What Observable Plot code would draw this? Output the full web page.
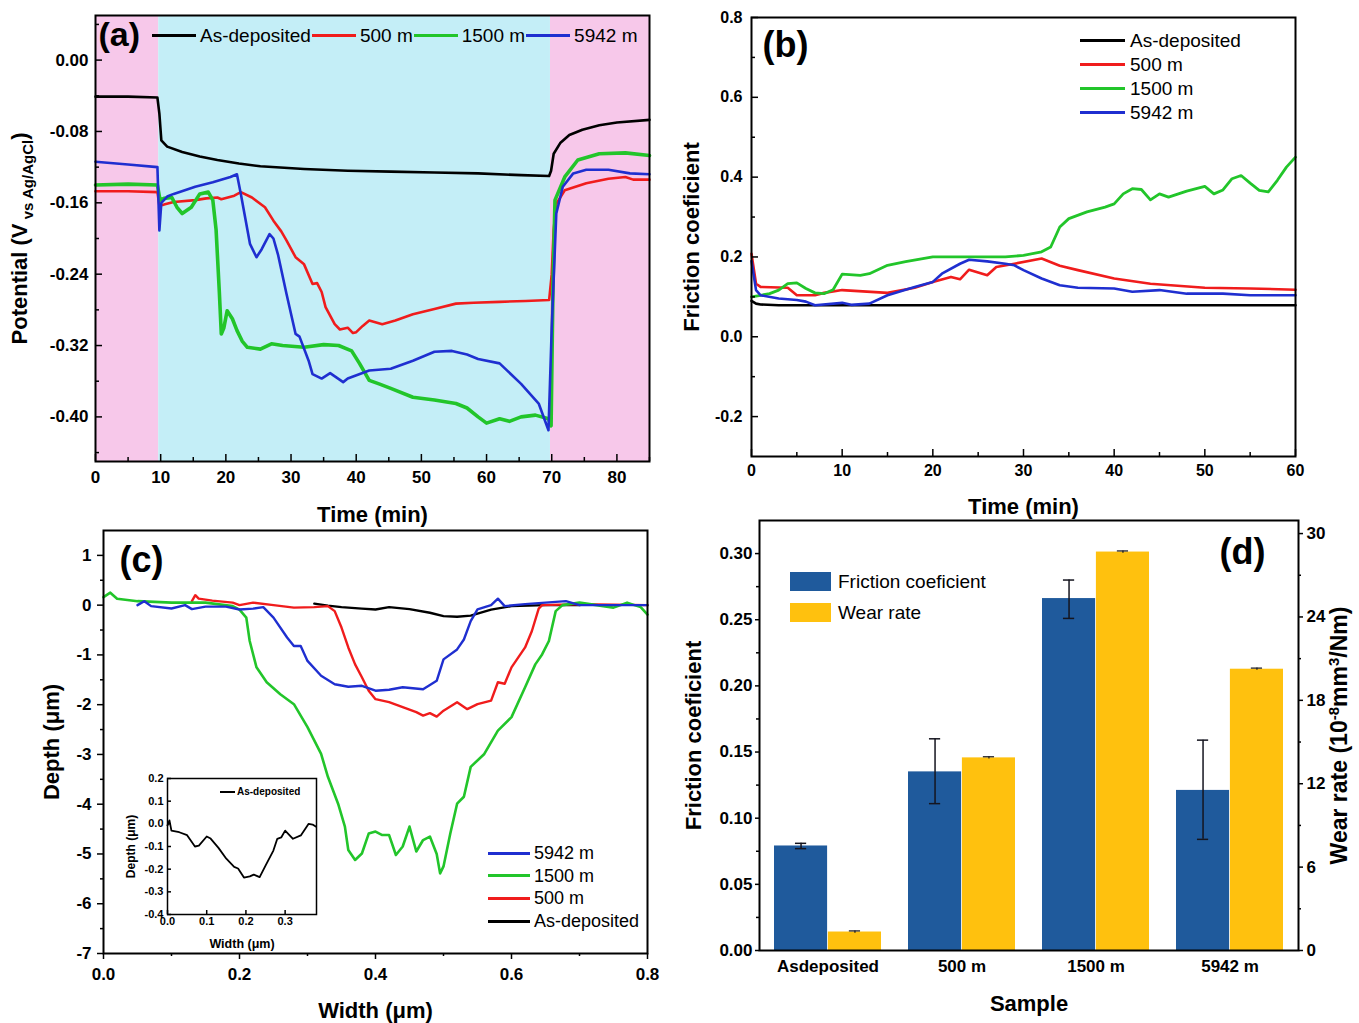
<!DOCTYPE html>
<html><head><meta charset="utf-8">
<script src="https://cdn.jsdelivr.net/npm/d3@7"></script>
<script src="https://cdn.jsdelivr.net/npm/@observablehq/plot@0.6"></script>
<style>
html,body{margin:0;padding:0;background:#fff;}
#root{position:relative;width:1359px;height:1023px;overflow:hidden;background:#fff;}
.panel{position:absolute;}
.panel svg{max-width:none !important;display:block;}
.legend{position:absolute;font-family:"Liberation Sans",Arial,Helvetica,sans-serif;color:#000;line-height:1;}
.row{display:flex;align-items:center;white-space:nowrap;}
.sw{display:inline-block;flex:none;}
</style></head><body><div id="root"></div>
<script>
// ---------------- DATA ----------------
const seriesLabels = ["As-deposited", "500 m", "1500 m", "5942 m"];
// (a) open-circuit potential vs time  [time (min), potential (V)]
const phaseStart = [0, 9.7, 69.8];
const phaseEnd   = [9.7, 69.8, 85];
const potAsDep = [[0,-0.041],[5,-0.041],[9.5,-0.042],[9.8,-0.060],[10.1,-0.090],[11,-0.097],[13.3,-0.103],[16,-0.108],[18.7,-0.112],[22,-0.116],[25.3,-0.119],[32,-0.122],[38.7,-0.124],[45.3,-0.125],[52,-0.126],[58.7,-0.127],[65.3,-0.129],[69.6,-0.130],[69.9,-0.124],[70.3,-0.105],[71.3,-0.093],[72.7,-0.084],[74.7,-0.078],[77.3,-0.073],[80,-0.070],[85,-0.067]];
const pot500 = [[0,-0.147],[5,-0.147],[9.5,-0.148],[9.8,-0.163],[10.5,-0.162],[12,-0.159],[15.3,-0.157],[17,-0.155],[18.7,-0.154],[19.3,-0.156],[21.3,-0.152],[22.3,-0.148],[24,-0.154],[26,-0.165],[27.3,-0.180],[28.5,-0.192],[29.3,-0.202],[30.7,-0.221],[32,-0.229],[33.3,-0.251],[34,-0.250],[34.7,-0.260],[35.3,-0.277],[36.7,-0.296],[37.5,-0.302],[38.7,-0.300],[39.5,-0.306],[40,-0.305],[41,-0.298],[42,-0.292],[44,-0.296],[46,-0.292],[48.7,-0.285],[52,-0.279],[55.3,-0.273],[58,-0.272],[62,-0.271],[66,-0.270],[69.6,-0.269],[70.0,-0.240],[70.3,-0.190],[70.7,-0.161],[72,-0.146],[75.3,-0.138],[78.7,-0.133],[81.3,-0.131],[82.5,-0.134],[85,-0.134]];
const pot1500 = [[0,-0.140],[5,-0.139],[9.5,-0.140],[9.9,-0.157],[10.5,-0.155],[11.7,-0.154],[12.5,-0.165],[13.3,-0.172],[14.7,-0.165],[16,-0.150],[17.3,-0.148],[18,-0.157],[18.5,-0.190],[19,-0.260],[19.3,-0.307],[19.7,-0.300],[20.2,-0.281],[21,-0.290],[21.7,-0.303],[22.5,-0.315],[23.3,-0.322],[25.3,-0.324],[27,-0.318],[28.7,-0.320],[32,-0.322],[35,-0.319],[37.3,-0.320],[39.3,-0.326],[40.5,-0.340],[42,-0.359],[43.5,-0.363],[45.3,-0.368],[48.7,-0.378],[52,-0.381],[55.3,-0.385],[57,-0.390],[58.7,-0.400],[60,-0.407],[62,-0.402],[63.5,-0.405],[65.3,-0.400],[67.5,-0.398],[69.5,-0.402],[69.9,-0.410],[70.2,-0.250],[70.5,-0.157],[72,-0.131],[74,-0.112],[77.3,-0.105],[81.3,-0.104],[85,-0.107]];
const pot5942 = [[0,-0.114],[5,-0.117],[9.5,-0.120],[9.8,-0.191],[10.1,-0.160],[11,-0.153],[12,-0.150],[15.3,-0.142],[18,-0.137],[20.7,-0.131],[21.7,-0.128],[22.3,-0.150],[23.7,-0.206],[24.7,-0.221],[25.5,-0.212],[26.7,-0.195],[27.3,-0.200],[28,-0.218],[29.3,-0.262],[30.7,-0.307],[31.3,-0.310],[32.7,-0.337],[33.3,-0.352],[34.7,-0.357],[36,-0.351],[37,-0.356],[38,-0.361],[38.7,-0.357],[42,-0.348],[45.3,-0.346],[48.7,-0.337],[52,-0.327],[54.7,-0.326],[57,-0.330],[58.7,-0.335],[62,-0.340],[65.3,-0.363],[68,-0.385],[69.5,-0.415],[70.0,-0.300],[70.7,-0.172],[71.7,-0.142],[73.3,-0.127],[75.3,-0.123],[78.7,-0.123],[82,-0.127],[85,-0.128]];
const aXTicks = [0,10,20,30,40,50,60,70,80];
const aYTicks = [0,-0.08,-0.16,-0.24,-0.32,-0.40];

// (b) friction coefficient vs time  [time (min), COF]
const cofAsDep = [[0,0.090],[0.5,0.083],[1,0.081],[3,0.079],[10,0.079],[20,0.079],[30,0.079],[40,0.079],[50,0.079],[60,0.079]];
const cof500 = [[0,0.208],[0.5,0.133],[1,0.125],[4,0.123],[5,0.104],[7,0.104],[8,0.110],[10,0.117],[15,0.110],[18,0.123],[20,0.1375],[22,0.150],[23,0.144],[24,0.168],[26,0.154],[27,0.175],[29,0.183],[32,0.196],[34,0.178],[36,0.167],[40,0.146],[44,0.133],[50,0.123],[55,0.121],[60,0.118]];
const cof1500 = [[0,0.100],[1,0.104],[2,0.108],[3,0.117],[4,0.133],[5,0.135],[6,0.121],[7,0.110],[8,0.108],[9,0.118],[10,0.157],[12,0.154],[13,0.158],[15,0.179],[17,0.188],[20,0.200],[25,0.200],[28,0.200],[30,0.204],[32,0.213],[33,0.225],[34,0.275],[35,0.296],[37,0.313],[39,0.325],[40,0.333],[41,0.358],[42,0.371],[43,0.369],[44,0.343],[45,0.358],[46,0.350],[48,0.365],[50,0.377],[51,0.358],[52,0.368],[53,0.396],[54,0.404],[55,0.385],[56,0.367],[57,0.363],[58,0.392],[59,0.425],[60,0.450]];
const cof5942 = [[0,0.190],[0.5,0.117],[1,0.104],[3,0.096],[5,0.092],[6,0.088],[7,0.079],[10,0.085],[11,0.080],[13,0.083],[15,0.104],[18,0.125],[20,0.1375],[21,0.158],[23,0.183],[24,0.193],[26,0.189],[28,0.183],[29,0.179],[30,0.167],[32,0.146],[34,0.129],[36,0.123],[40,0.121],[42,0.113],[45,0.117],[48,0.108],[52,0.108],[55,0.104],[60,0.104]];
const bXTicks = [0,10,20,30,40,50,60];
const bYTicks = [-0.2,0,0.2,0.4,0.6,0.8];

// (c) wear track profiles  [width (um), depth (um)]
const depthAsDep = [[0.31,0.03],[0.33,-0.01],[0.35,-0.04],[0.38,-0.07],[0.40,-0.087],[0.42,-0.04],[0.45,-0.08],[0.48,-0.153],[0.50,-0.22],[0.52,-0.233],[0.54,-0.21],[0.57,-0.09],[0.60,-0.02],[0.65,0],[0.70,0]];
const depth5942 = [[0.05,0],[0.06,0.08],[0.07,-0.02],[0.10,-0.067],[0.12,0],[0.13,-0.08],[0.15,-0.03],[0.18,-0.03],[0.20,-0.087],[0.22,-0.07],[0.235,-0.04],[0.25,-0.25],[0.27,-0.65],[0.28,-0.82],[0.29,-0.82],[0.30,-1.12],[0.32,-1.42],[0.34,-1.59],[0.36,-1.64],[0.38,-1.62],[0.40,-1.72],[0.42,-1.70],[0.44,-1.65],[0.47,-1.69],[0.49,-1.52],[0.50,-1.09],[0.52,-0.89],[0.53,-0.69],[0.54,-0.32],[0.55,-0.087],[0.57,0],[0.58,0.13],[0.59,-0.02],[0.62,0.02],[0.68,0.08],[0.70,0],[0.80,0]];
const depth1500 = [[0,0.16],[0.01,0.25],[0.02,0.13],[0.05,0.08],[0.10,0.05],[0.15,0.05],[0.19,-0.02],[0.20,-0.09],[0.21,-0.25],[0.215,-0.72],[0.225,-1.25],[0.24,-1.55],[0.26,-1.79],[0.28,-1.99],[0.30,-2.45],[0.32,-2.99],[0.33,-3.45],[0.345,-3.99],[0.355,-4.45],[0.36,-4.92],[0.37,-5.12],[0.38,-4.99],[0.39,-4.59],[0.40,-4.55],[0.41,-4.62],[0.42,-4.62],[0.43,-5.02],[0.44,-4.85],[0.45,-4.45],[0.46,-4.95],[0.47,-4.72],[0.48,-4.65],[0.49,-5.00],[0.495,-5.39],[0.50,-5.25],[0.51,-4.59],[0.52,-3.99],[0.53,-3.85],[0.54,-3.25],[0.56,-2.99],[0.58,-2.52],[0.60,-2.25],[0.62,-1.65],[0.635,-1.19],[0.645,-0.99],[0.655,-0.72],[0.665,-0.12],[0.675,0],[0.70,0.05],[0.75,-0.05],[0.77,0.05],[0.79,-0.04],[0.80,-0.19]];
const depth500 = [[0.13,0.08],[0.135,0.20],[0.14,0.13],[0.16,0.09],[0.19,0.05],[0.20,0],[0.22,0.05],[0.25,0],[0.28,-0.05],[0.31,-0.04],[0.33,-0.02],[0.34,-0.12],[0.35,-0.45],[0.36,-0.85],[0.37,-1.19],[0.38,-1.45],[0.39,-1.72],[0.40,-1.89],[0.42,-1.95],[0.44,-2.05],[0.46,-2.15],[0.47,-2.22],[0.48,-2.17],[0.49,-2.24],[0.50,-2.12],[0.52,-1.95],[0.535,-2.09],[0.55,-1.99],[0.57,-1.92],[0.58,-1.55],[0.59,-1.58],[0.60,-1.25],[0.62,-0.85],[0.63,-0.52],[0.64,-0.07],[0.645,0],[0.70,0.02],[0.80,0]];
const cXTicks = [0,0.2,0.4,0.6,0.8];
const cYTicks = [1,0,-1,-2,-3,-4,-5,-6,-7];
const insetAsDep = [[0,-0.007],[0.005,0.015],[0.01,-0.03],[0.03,-0.037],[0.05,-0.05],[0.07,-0.10],[0.08,-0.096],[0.10,-0.056],[0.11,-0.065],[0.13,-0.106],[0.15,-0.154],[0.17,-0.19],[0.18,-0.197],[0.195,-0.237],[0.21,-0.232],[0.22,-0.224],[0.235,-0.235],[0.25,-0.184],[0.27,-0.118],[0.28,-0.066],[0.29,-0.06],[0.30,-0.03],[0.32,-0.066],[0.34,-0.051],[0.36,0],[0.37,-0.003],[0.378,-0.012]];
const insetXTicks = [0,0.1,0.2,0.3];
const insetYTicks = [0.2,0.1,0,-0.1,-0.2,-0.3,-0.4];

// (d) friction coefficient and wear rate per sample
const samples = ["Asdeposited", "500 m", "1500 m", "5942 m"];
const friction = [0.079, 0.135, 0.266, 0.121];
const frictionLo = [0.077, 0.111, 0.251, 0.084];
const frictionHi = [0.081, 0.160, 0.280, 0.159];
const wearRate = [1.33, 13.86, 28.67, 20.24];
const wearErr = [0.08, 0.08, 0.08, 0.08];
const dLeftTicks = [0,0.05,0.10,0.15,0.20,0.25,0.30];
const dRightTicks = [0,6,12,18,24,30];

// ---------------- STYLE ----------------
const FONT = '"Liberation Sans", Arial, Helvetica, sans-serif';
const C_BLACK = "#000000", C_RED = "#f01c1c", C_GREEN = "#22c52a", C_BLUE = "#1f2fd0";
const seriesColors = [C_BLACK, C_RED, C_GREEN, C_BLUE];
const C_PINK = "#f7c8ea", C_CYAN = "#c4eef7";
const C_BAR1 = "#1f5a9c", C_BAR2 = "#ffc10e";
const root = document.getElementById("root");

function baseStyle(fs) {
  return {fontFamily: FONT, fontSize: fs + "px", fontWeight: "bold", background: "transparent", overflow: "visible", color: "#000"};
}
function place(svg, left, top) {
  const div = document.createElement("div");
  div.className = "panel"; div.style.left = left + "px"; div.style.top = top + "px";
  div.appendChild(svg); root.appendChild(div); return svg;
}
function mid(arr) { const o = []; for (let i = 0; i + 1 < arr.length; i++) o.push((arr[i] + arr[i+1]) / 2); return o; }
function ticksBottom(vals, len, fh, out) {
  return Plot.ruleX(vals, out ? {x: d => d, insetTop: fh, insetBottom: -len, stroke: "#000", strokeWidth: 1.5}
                              : {x: d => d, insetTop: fh - len, stroke: "#000", strokeWidth: 1.5});
}
function ticksLeft(vals, len, fw, out) {
  return Plot.ruleY(vals, out ? {y: d => d, insetLeft: -len, insetRight: fw, stroke: "#000", strokeWidth: 1.5}
                              : {y: d => d, insetRight: fw - len, stroke: "#000", strokeWidth: 1.5});
}
function ticksRight(vals, len, fw, out) {
  return Plot.ruleY(vals, out ? {y: d => d, insetLeft: fw, insetRight: -len, stroke: "#000", strokeWidth: 1.5}
                              : {y: d => d, insetLeft: fw - len, stroke: "#000", strokeWidth: 1.5});
}
function richText(svg, match, parts) {
  d3.select(svg).selectAll("text").filter(function () { return this.textContent === match; }).each(function () {
    const t = d3.select(this); t.text("");
    parts.forEach(p => { const ts = t.append("tspan").text(p.t); if (p.fs) ts.attr("font-size", p.fs); if (p.dy) ts.attr("dy", p.dy); });
  });
}
function legend(o) {
  const div = document.createElement("div"); div.className = "legend";
  div.style.left = o.left + "px"; div.style.top = o.top + "px";
  div.style.fontSize = o.fontSize + "px"; div.style.fontWeight = o.fontWeight || "normal";
  div.style.display = "flex"; div.style.flexDirection = o.dir || "column";
  if (o.itemGap) div.style.gap = o.itemGap + "px";
  o.items.forEach(it => {
    const r = document.createElement("div"); r.className = "row"; r.style.height = o.rowH + "px";
    const sw = document.createElement("span"); sw.className = "sw";
    sw.style.width = o.lineW + "px"; sw.style.height = o.lineH + "px"; sw.style.background = it.color; sw.style.marginRight = o.gap + "px";
    const tx = document.createElement("span"); tx.textContent = it.label;
    r.append(sw, tx); div.appendChild(r);
  });
  root.appendChild(div);
}
const lx = d => d[0], ly = d => d[1];
function xTitle(t, dy, fs) { return Plot.text([t], {frameAnchor: "bottom", dy, lineAnchor: "middle", textAnchor: "middle", fontSize: fs, fontWeight: "bold"}); }
function yTitle(t, dx, fs, side) { return Plot.text([t], {frameAnchor: side || "left", dx, rotate: -90, lineAnchor: "middle", textAnchor: "middle", fontSize: fs, fontWeight: "bold"}); }
function panelLabel(t, anchor, dx, dy, fs) { return Plot.text([t], {frameAnchor: anchor, dx, dy, lineAnchor: "middle", textAnchor: /right$/.test(anchor) ? "end" : "start", fontSize: fs, fontWeight: "bold"}); }

// ---------------- PANEL (a) ----------------
{
  const W = 680, H = 530, ml = 95, mr = 31, mt = 15, mb = 69, fw = W - ml - mr, fh = H - mt - mb;
  const phases = phaseStart.map((s, i) => ({s, e: phaseEnd[i], i}));
  const svg = Plot.plot({
    width: W, height: H, marginLeft: ml, marginRight: mr, marginTop: mt, marginBottom: mb,
    x: {domain: [0, 85]}, y: {domain: [-0.45, 0.05]}, style: baseStyle(17),
    marks: [
      Plot.rect(phases.filter(p => p.i !== 1), {x1: "s", x2: "e", fill: C_PINK}),
      Plot.rect(phases.filter(p => p.i === 1), {x1: "s", x2: "e", fill: C_CYAN}),
      Plot.line(potAsDep, {x: lx, y: ly, stroke: C_BLACK, strokeWidth: 2.6}),
      Plot.line(pot500, {x: lx, y: ly, stroke: C_RED, strokeWidth: 2.6}),
      Plot.line(pot1500, {x: lx, y: ly, stroke: C_GREEN, strokeWidth: 3.6}),
      Plot.line(pot5942, {x: lx, y: ly, stroke: C_BLUE, strokeWidth: 2.6}),
      Plot.frame({stroke: "#000", strokeWidth: 2}),
      ticksBottom(aXTicks, 7, fh), ticksBottom(mid([...aXTicks, 90]), 4, fh),
      ticksLeft(aYTicks, 7, fw), ticksLeft([0.04, ...mid(aYTicks), -0.44], 4, fw),
      Plot.axisX(aXTicks, {tickSize: 0, tickPadding: 9, tickFormat: d => String(d), label: null}),
      Plot.axisY(aYTicks, {tickSize: 0, tickPadding: 7, tickFormat: d => d.toFixed(2), label: null}),
      xTitle("Time (min)", 53, 22),
      yTitle("Potential (V vs Ag/AgCl)", -76, 22),
      panelLabel("(a)", "top-left", 3, 20, 34)
    ]
  });
  richText(svg, "Potential (V vs Ag/AgCl)", [{t: "Potential (V"}, {t: " vs Ag/AgCl", fs: 15, dy: 6}, {t: ")", fs: 22, dy: -6}]);
  place(svg, 0, 0);
  legend({left: 152, top: 24, dir: "row", rowH: 22, lineW: 44, lineH: 3, gap: 4, itemGap: 1, fontSize: 19,
          items: seriesLabels.map((l, i) => ({label: l, color: seriesColors[i]}))});
}

// ---------------- PANEL (b) ----------------
{
  const W = 679, H = 530, ml = 71, mr = 64, mt = 17, mb = 74, fw = W - ml - mr, fh = H - mt - mb;
  const svg = Plot.plot({
    width: W, height: H, marginLeft: ml, marginRight: mr, marginTop: mt, marginBottom: mb,
    x: {domain: [0, 60]}, y: {domain: [-0.3, 0.8]}, style: baseStyle(16),
    marks: [
      Plot.line(cofAsDep, {x: lx, y: ly, stroke: C_BLACK, strokeWidth: 2.6}),
      Plot.line(cof500, {x: lx, y: ly, stroke: C_RED, strokeWidth: 2.6}),
      Plot.line(cof1500, {x: lx, y: ly, stroke: C_GREEN, strokeWidth: 2.8}),
      Plot.line(cof5942, {x: lx, y: ly, stroke: C_BLUE, strokeWidth: 2.6}),
      Plot.frame({stroke: "#000", strokeWidth: 2}),
      ticksBottom(bXTicks, 7, fh), ticksBottom(mid(bXTicks), 4, fh),
      ticksLeft(bYTicks, 7, fw), ticksLeft(mid(bYTicks), 4, fw),
      Plot.axisX(bXTicks, {tickSize: 0, tickPadding: 8, tickFormat: d => String(d), label: null}),
      Plot.axisY(bYTicks, {tickSize: 0, tickPadding: 9, tickFormat: d => d.toFixed(1), label: null}),
      xTitle("Time (min)", 50, 22),
      yTitle("Friction coeficient", -60, 22),
      panelLabel("(b)", "top-left", 11, 28, 36)
    ]
  });
  place(svg, 680, 0);
  legend({left: 1080, top: 28, rowH: 24, lineW: 45, lineH: 3, gap: 5, fontSize: 19,
          items: seriesLabels.map((l, i) => ({label: l, color: seriesColors[i]}))});
}

// ---------------- PANEL (c) ----------------
{
  const W = 680, H = 503, ml = 103, mr = 33, mt = 10, mb = 70, fw = W - ml - mr, fh = H - mt - mb;
  const svg = Plot.plot({
    width: W, height: H, marginLeft: ml, marginRight: mr, marginTop: mt, marginBottom: mb,
    x: {domain: [0, 0.8]}, y: {domain: [-7, 1.5]}, style: baseStyle(17),
    marks: [
      Plot.line(depthAsDep, {x: lx, y: ly, stroke: C_BLACK, strokeWidth: 2.4}),
      Plot.line(depth500, {x: lx, y: ly, stroke: C_RED, strokeWidth: 2.4}),
      Plot.line(depth1500, {x: lx, y: ly, stroke: C_GREEN, strokeWidth: 2.6}),
      Plot.line(depth5942, {x: lx, y: ly, stroke: C_BLUE, strokeWidth: 2.4}),
      Plot.frame({stroke: "#000", strokeWidth: 2}),
      ticksBottom(mid(cXTicks), 3, fh, true),
      ticksLeft(mid(cYTicks), 3, fw, true),
      Plot.axisX(cXTicks, {tickSize: 6, strokeWidth: 1.5, tickPadding: 8, tickFormat: d => d.toFixed(1), label: null}),
      Plot.axisY(cYTicks, {tickSize: 6, strokeWidth: 1.5, tickPadding: 6, tickFormat: d => String(d), label: null}),
      xTitle("Width (μm)", 57, 22),
      yTitle("Depth (μm)", -52, 22),
      panelLabel("(c)", "top-left", 16, 30, 36)
    ]
  });
  place(svg, 0, 520);
  legend({left: 488, top: 842, rowH: 22.6, lineW: 42, lineH: 3, gap: 4, fontSize: 18,
          items: [3, 2, 1, 0].map(i => ({label: seriesLabels[i], color: seriesColors[i]}))});
}

// ---------------- INSET (c) ----------------
{
  const W = 220, H = 190, ml = 57, mr = 14, mt = 8, mb = 46, fw = W - ml - mr, fh = H - mt - mb;
  const svg = Plot.plot({
    width: W, height: H, marginLeft: ml, marginRight: mr, marginTop: mt, marginBottom: mb,
    x: {domain: [0, 0.38]}, y: {domain: [-0.4, 0.2]}, style: baseStyle(11),
    marks: [
      Plot.line(insetAsDep, {x: lx, y: ly, stroke: C_BLACK, strokeWidth: 1.8}),
      Plot.frame({stroke: "#000", strokeWidth: 1.5}),
      ticksBottom(insetXTicks, 4, fh), ticksLeft(insetYTicks, 4, fw),
      Plot.axisX(insetXTicks, {tickSize: 0, tickPadding: 3, tickFormat: d => d.toFixed(1), label: null}),
      Plot.axisY(insetYTicks, {tickSize: 0, tickPadding: 4, tickFormat: d => d.toFixed(1), label: null}),
      xTitle("Width (μm)", 29, 12.5),
      yTitle("Depth (μm)", -36, 12)
    ]
  });
  place(svg, 110, 770);
  legend({left: 220, top: 785, rowH: 14, lineW: 15, lineH: 2, gap: 2, fontSize: 10, fontWeight: "bold",
          items: [{label: seriesLabels[0], color: C_BLACK}]});
}

// ---------------- PANEL (d) ----------------
{
  const W = 679, H = 513, ml = 79, mr = 61, mt = 10, mb = 73, fw = W - ml - mr, fh = H - mt - mb;
  const yTop = 0.325, wTop = 30.94, k = yTop / wTop;
  const pIn = 0.2, pOut = 0.1;
  const bw = fw / (samples.length - pIn + 2 * pOut) * (1 - pIn);
  const rows = samples.map((s, i) => ({
    sample: s, f: friction[i], fLo: frictionLo[i], fHi: frictionHi[i],
    w: wearRate[i] * k, wLo: (wearRate[i] - wearErr[i]) * k, wHi: (wearRate[i] + wearErr[i]) * k
  }));
  const cap = 6;
  const svg = Plot.plot({
    width: W, height: H, marginLeft: ml, marginRight: mr, marginTop: mt, marginBottom: mb,
    x: {domain: samples, paddingInner: pIn, paddingOuter: pOut}, y: {domain: [0, yTop]}, style: baseStyle(17),
    marks: [
      Plot.barY(rows, {x: "sample", y: "f", fill: C_BAR1, insetRight: bw / 2}),
      Plot.barY(rows, {x: "sample", y: "w", fill: C_BAR2, insetLeft: bw / 2}),
      Plot.ruleX(rows, {x: "sample", y1: "fLo", y2: "fHi", dx: -bw / 4, stroke: "#15151f", strokeWidth: 1.5}),
      Plot.tickY(rows, {x: "sample", y: "fHi", insetLeft: bw / 4 - cap, insetRight: 3 * bw / 4 - cap, stroke: "#15151f", strokeWidth: 1.5}),
      Plot.tickY(rows, {x: "sample", y: "fLo", insetLeft: bw / 4 - cap, insetRight: 3 * bw / 4 - cap, stroke: "#15151f", strokeWidth: 1.5}),
      Plot.ruleX(rows, {x: "sample", y1: "wLo", y2: "wHi", dx: bw / 4, stroke: "#15151f", strokeWidth: 1.2}),
      Plot.tickY(rows, {x: "sample", y: "wHi", insetLeft: 3 * bw / 4 - cap, insetRight: bw / 4 - cap, stroke: "#15151f", strokeWidth: 1.2}),
      Plot.frame({stroke: "#000", strokeWidth: 2}),
      ticksLeft(mid(dLeftTicks), 3, fw, true),
      ticksRight(mid(dRightTicks).map(v => v * k), 3, fw, true),
      Plot.axisX({tickSize: 0, tickPadding: 9, label: null}),
      Plot.axisY(dLeftTicks, {tickSize: 4, strokeWidth: 1.5, tickPadding: 3, tickFormat: d => d.toFixed(2), label: null}),
      Plot.axisY(dRightTicks.map(v => v * k), {anchor: "right", tickSize: 4, strokeWidth: 1.5, tickPadding: 4, tickFormat: d => String(Math.round(d / k)), label: null}),
      xTitle("Sample", 53, 22),
      yTitle("Friction coeficient", -66, 22),
      yTitle("Wear rate (10-8mm3/Nm)", 41, 23, "right"),
      panelLabel("(d)", "top-right", -33, 32, 36)
    ]
  });
  richText(svg, "Wear rate (10-8mm3/Nm)", [{t: "Wear rate (10"}, {t: "-8", fs: 15, dy: -8}, {t: "mm", fs: 23, dy: 8}, {t: "3", fs: 15, dy: -8}, {t: "/Nm)", fs: 23, dy: 8}]);
  place(svg, 680, 510);
  legend({left: 790, top: 566, rowH: 31, lineW: 41, lineH: 19, gap: 7, fontSize: 19,
          items: [{label: "Friction coeficient", color: C_BAR1}, {label: "Wear rate", color: C_BAR2}]});
}
</script></body></html>
